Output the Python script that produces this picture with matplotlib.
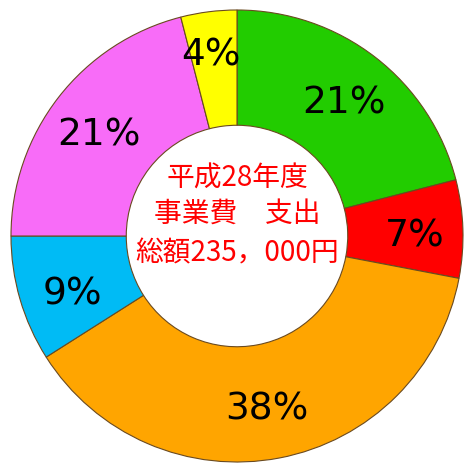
import matplotlib
matplotlib.use("Agg")
import matplotlib.pyplot as plt
from matplotlib.transforms import ScaledTranslation

categories = ["A", "B", "C", "D", "E", "F"]
values = [21, 7, 38, 9, 21, 4]
colors = ["#22cc00", "#ff0000", "#ffa500", "#00bbf5", "#f86cf8", "#ffff00"]
title_lines = ["平成28年度", "事業費　支出", "総額235，000円"]

W = 467
fig = plt.figure(figsize=(4.67, 4.67), dpi=100)
cx, cy, R = 237, 236, 226
ax = fig.add_axes([(cx - R) / W, (W - cy - R) / W, 2 * R / W, 2 * R / W])

wedges, texts, autotexts = ax.pie(
    values, colors=colors, startangle=90, counterclock=False, radius=1,
    autopct="%d%%", pctdistance=0.77,
    wedgeprops=dict(width=0.51, edgecolor="#6a4a20", linewidth=0.8),
    textprops=dict(fontsize=27, color="black", family="DejaVu Sans"),
)
ax.set_xlim(-1, 1)
ax.set_ylim(-1, 1)
ax.set_aspect("equal")
ax.axis("off")

# small per-label nudges (points) to match reference placement
nudges = [(0, -5), (4, -6), (-3, -3), (3, -10), (0, -6), (-4, 8)]
for t, (dx, dy) in zip(autotexts, nudges):
    t.set_ha("center")
    t.set_va("center")
    t.set_transform(ax.transData + ScaledTranslation(dx / 100, dy / 100, fig.dpi_scale_trans))

ys = [179, 214, 253]
for line, y in zip(title_lines, ys):
    fig.text(cx / W, 1 - y / W, line, ha="center", va="center", color="#ff0000",
             fontsize=20, family=["Noto Sans CJK JP", "DejaVu Sans"])

fig.savefig("out.png", dpi=100, facecolor="white")
